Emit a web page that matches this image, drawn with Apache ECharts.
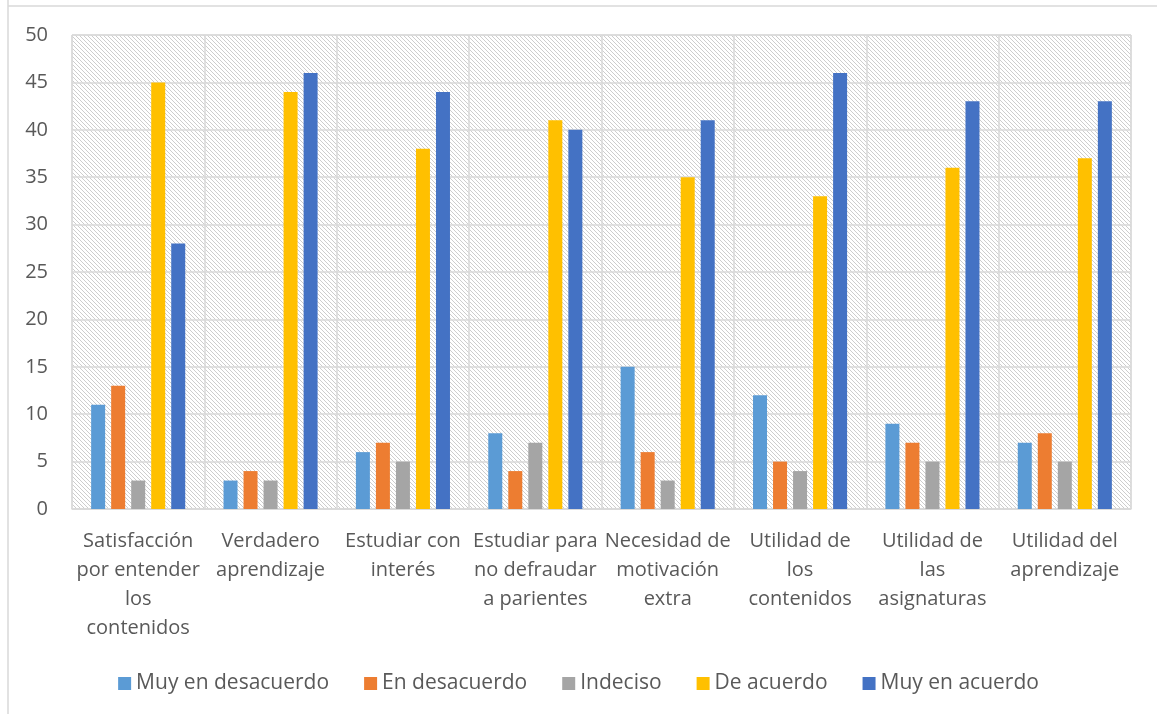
<!DOCTYPE html>
<html><head><meta charset="utf-8">
<script src="https://cdn.jsdelivr.net/npm/echarts@6/dist/echarts.min.js"></script>
<style>html,body{margin:0;padding:0;background:#fff}#c{width:1157px;height:714px}</style>
</head><body><div id="c"></div>
<script>
const categories = ["Satisfacción\npor entender\nlos\ncontenidos","Verdadero\naprendizaje","Estudiar con\ninterés","Estudiar para\nno defraudar\na parientes","Necesidad de\nmotivación\nextra","Utilidad de\nlos\ncontenidos","Utilidad de\nlas\nasignaturas","Utilidad del\naprendizaje"];
const seriesNames = ["Muy en desacuerdo","En desacuerdo","Indeciso","De acuerdo","Muy en acuerdo"];
const muyDesacuerdo = [11,3,6,8,15,12,9,7];
const enDesacuerdo = [13,4,7,4,6,5,7,8];
const indeciso = [3,3,5,7,3,4,5,5];
const deAcuerdo = [45,44,38,41,35,33,36,37];
const muyAcuerdo = [28,46,44,40,41,46,43,43];
const colors = ["#5B9BD5","#ED7D31","#A5A5A5","#FFC000","#4472C4"];

const pc = document.createElement('canvas');
pc.width = 4; pc.height = 4;
const pctx = pc.getContext('2d');
pctx.fillStyle = '#ffffff'; pctx.fillRect(0,0,4,4);
pctx.fillStyle = '#cdcdcd';
for (let i=0;i<4;i++) pctx.fillRect(i,i,1,1);

const font = "'Open Sans', 'Liberation Sans', sans-serif";
const chart = echarts.init(document.getElementById('c'));
const values = [muyDesacuerdo, enDesacuerdo, indeciso, deAcuerdo, muyAcuerdo];
chart.setOption({
  animation:false,
  color: colors,
  grid:{left:72,right:26,top:35,bottom:205,show:true,borderColor:'#d9d9d9',borderWidth:1,
        backgroundColor:{image:pc,repeat:'repeat'}},
  legend:{bottom:15,left:'center',itemWidth:13,itemHeight:13,itemGap:35,icon:'rect',
          textStyle:{fontFamily:font,fontSize:21,color:'#595959'},data:seriesNames},
  xAxis:{type:'category',data:categories,
    axisLine:{lineStyle:{color:'#d9d9d9',width:1.5}},axisTick:{show:false},
    splitLine:{show:true,lineStyle:{color:'#d9d9d9',width:1.5}},
    axisLabel:{interval:0,margin:18,fontFamily:font,fontSize:20,color:'#595959',lineHeight:29,align:'center'}},
  yAxis:{type:'value',min:0,max:50,interval:5,
    axisLine:{show:false},axisTick:{show:false},
    splitLine:{lineStyle:{color:'#d9d9d9',width:1.5}},
    axisLabel:{margin:24,fontFamily:font,fontSize:20,color:'#595959'}},
  graphic:[
    {type:'line',shape:{x1:8,y1:0,x2:8,y2:714},style:{stroke:'#d9d9d9',lineWidth:1.5}},
    {type:'line',shape:{x1:8,y1:6,x2:1157,y2:6},style:{stroke:'#d9d9d9',lineWidth:1.5}}
  ],
  series: seriesNames.map((n,i)=>({name:n,type:'bar',data:values[i],barWidth:14,barGap:'43%'}))
});
</script></body></html>
